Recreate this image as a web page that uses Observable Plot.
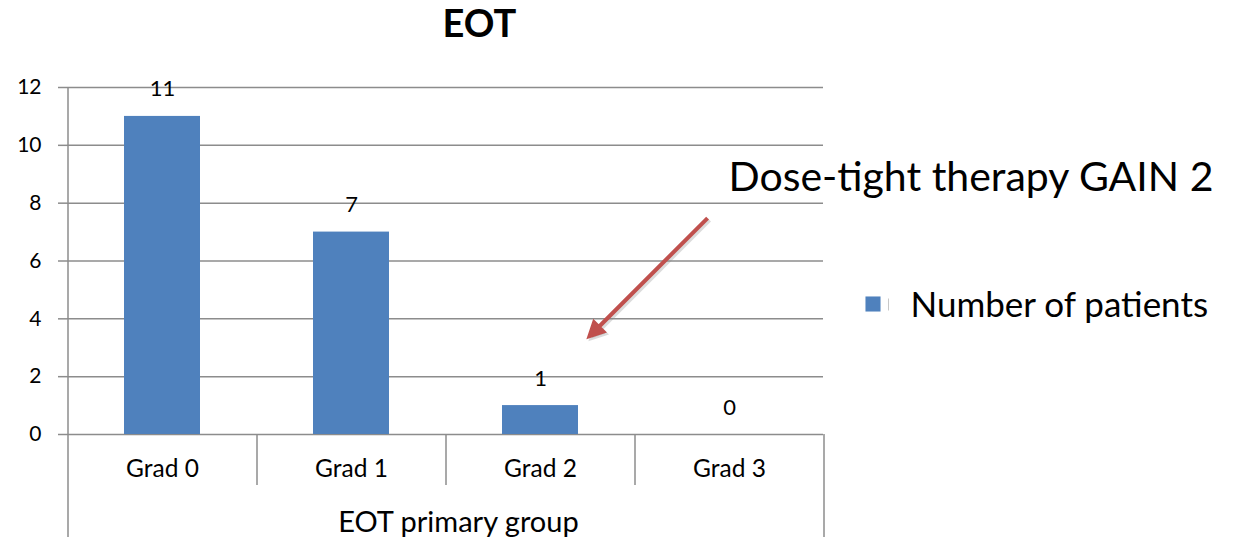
<!DOCTYPE html>
<html><head><meta charset="utf-8">
<script src="https://cdn.jsdelivr.net/npm/d3@7"></script>
<script src="https://cdn.jsdelivr.net/npm/@observablehq/plot@0.6"></script>
<style>
html,body{margin:0;padding:0;background:#fff;}
#chart{width:1237px;height:539px;overflow:hidden;}
</style></head><body><div id="chart"></div>
<script>
const categories = ["Grad 0", "Grad 1", "Grad 2", "Grad 3"];
const patients = [11, 7, 1, 0];
const seriesName = "Number of patients";
const yTicks = [0, 2, 4, 6, 8, 10, 12];
const chartTitle = "EOT";
const xTitle = "EOT primary group";
const annotationText = "Dose-tight therapy GAIN 2";
const arrowTarget = [{grad: "Grad 2", value: 3.4}];

const data = categories.map((c, i) => ({grad: c, n: patients[i]}));
const W = 1237, H = 539, mL = 67, mR = 414, mT = 87, mB = 105;
const step = (W - mL - mR) / categories.length;
const FONT = "Lato, 'Open Sans', sans-serif";
const grid = "#8c8c8c";
const blue = "#4f81bd";
const red = "#c0504d";

const arrowShape = {
  draw(ctx, l) {
    const h = 13, w = 6.5;
    ctx.moveTo(0, 0);
    ctx.lineTo(0, -l + h);
    ctx.moveTo(0, -l);
    ctx.lineTo(w, -l + h);
    ctx.lineTo(-w, -l + h);
    ctx.closePath();
  }
};
const legendTick = {
  draw(ctx) { ctx.moveTo(0, -6); ctx.lineTo(0, 6); }
};

const plot = Plot.plot({
  width: W, height: H,
  marginLeft: mL, marginRight: mR, marginTop: mT, marginBottom: mB,
  style: {fontFamily: FONT, color: "#000", background: "#fff"},
  x: {domain: categories, paddingInner: 0.6, paddingOuter: 0.3},
  y: {domain: [0, 12]},
  marks: [
    Plot.gridY(yTicks, {stroke: grid, strokeOpacity: 1, strokeWidth: 1.5}),
    Plot.axisY(yTicks, {tickSize: 9, tickPadding: 17, fontSize: 21, stroke: grid, strokeWidth: 1.5, label: null}),
    Plot.ruleX([categories[0]], {dx: -step / 2, stroke: grid, strokeWidth: 1.5}),
    Plot.axisX(categories.slice(1), {tickSize: 51, dx: -step / 2, stroke: grid, strokeWidth: 1.5, tickFormat: () => "", fill: "none", label: null}),
    Plot.axisX([categories[0]], {tickSize: 103, dx: -step / 2, stroke: grid, strokeWidth: 1.5, tickFormat: () => "", fill: "none", label: null}),
    Plot.axisX([categories[categories.length - 1]], {tickSize: 103, dx: step / 2, stroke: grid, strokeWidth: 1.5, tickFormat: () => "", fill: "none", label: null}),
    Plot.axisX(categories, {tickSize: 0, tickPadding: 25, fontSize: 24.5, label: null}),
    Plot.barY(data, {x: "grad", y: "n", fill: blue}),
    Plot.text(data, {x: "grad", y: "n", text: d => String(d.n), dy: -27, fontSize: 22}),
    Plot.text([chartTitle], {frameAnchor: "top", lineAnchor: "middle", dx: 34, dy: -63, fontSize: 38, fontWeight: "bold"}),
    Plot.text([xTitle], {frameAnchor: "bottom", lineAnchor: "middle", dx: 13, dy: 88, fontSize: 29}),
    Plot.text([annotationText], {frameAnchor: "top-right", lineAnchor: "middle", textAnchor: "start", dx: -95, dy: 90, fontSize: 41}),
    Plot.dot([seriesName], {frameAnchor: "right", dx: 49.5, dy: 43, symbol: "square", r: 8.5, fill: blue, stroke: "none"}),
    Plot.dot([seriesName], {frameAnchor: "right", dx: 65, dy: 43.5, symbol: legendTick, stroke: "#c8c8c8", strokeWidth: 1, fill: "none"}),
    Plot.text([seriesName], {frameAnchor: "right", lineAnchor: "middle", textAnchor: "start", dx: 87, dy: 44.5, fontSize: 35}),
    Plot.vector(arrowTarget, {x: "grad", y: "value", dx: 51, dy: 2, anchor: "end", length: 167, rotate: 225, shape: arrowShape, stroke: "#888", fill: "#888", strokeOpacity: 0.3, fillOpacity: 0.3, strokeWidth: 4, strokeLinejoin: "miter", strokeLinecap: "butt"}),
    Plot.vector(arrowTarget, {x: "grad", y: "value", dx: 49, anchor: "end", length: 167, rotate: 225, shape: arrowShape, stroke: red, fill: red, strokeWidth: 4, strokeLinejoin: "miter", strokeLinecap: "butt"})
  ]
});
document.getElementById("chart").appendChild(plot);
</script></body></html>
